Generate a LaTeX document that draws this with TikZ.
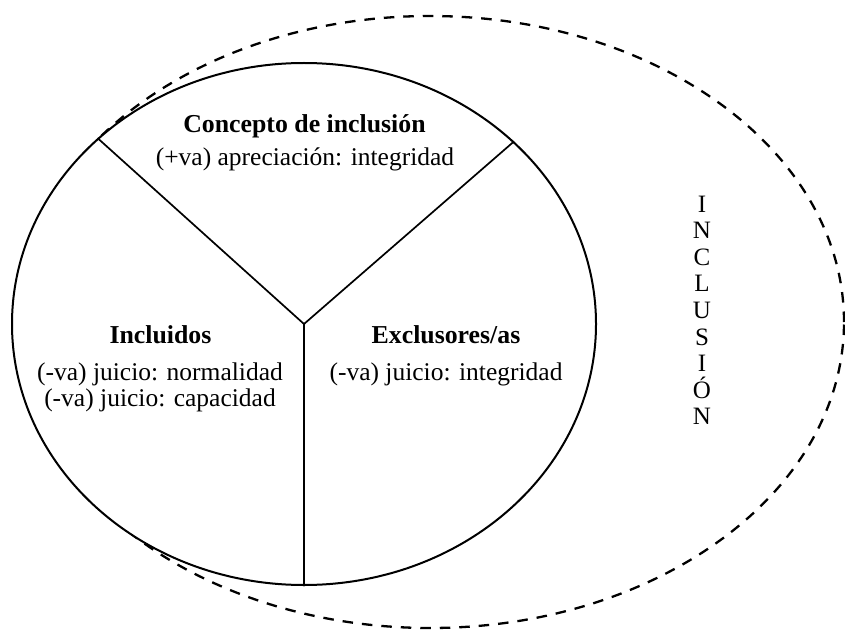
\documentclass[tikz,border=0pt]{standalone}
\usepackage{fontspec}
\setmainfont{Liberation Serif}
\usetikzlibrary{shapes.geometric, positioning}

\begin{document}
\begin{tikzpicture}[
x=1pt, y=1pt,
every node/.style = {inner sep=0pt},
head/.style = {anchor=base, font=\fontsize{25.8}{27}\selectfont\bfseries},
txt/.style  = {anchor=base, font=\fontsize{25.5}{27}\selectfont},
letter/.style = {anchor=base, font=\fontsize{25}{26}\selectfont},
rim/.style  = {ellipse, draw, line width=2pt},
                        ]
\useasboundingbox (0,0) rectangle (845,-631);
% outer dashed ring, partly hidden by the pie
\node (ring) [rim, line width=2.3pt, dash pattern=on 10.5pt off 9pt,
              minimum width=828pt, minimum height=612pt] at (430,-322) {};
\node (pie) [rim, fill=white,
             minimum width=584pt, minimum height=522pt] at (304,-324) {};
\coordinate (hub) at (pie.center);
\draw[line width=1.7pt] (pie.138.2) -- (hub) -- (pie.41.8)
                        (hub) -- (pie.south);

\node (tconc)  [head] at (304.5,-133) {Concepto de inclusión};
\node (tconcv) [txt]  at (305,-166)   {(+va) apreciación: integridad};
\node (tincl)  [head] at (160.5,-343) {Incluidos};
\node (tinclA) [txt]  at (160,-380)   {(-va) juicio: normalidad};
\node (tinclB) [txt]  at (160,-406)   {(-va) juicio: capacidad};
\node (texcl)  [head] at (446,-343)   {Exclusores/as};
\node (texclA) [txt]  at (446,-380)   {(-va) juicio: integridad};

% vertical word
\foreach \ch [count=\i] in {I,N,C,L,U,S,I,Ó,N}
  \node (l\i) [letter] at (702,{-185.4-26.6*\i}) {\ch};
\end{tikzpicture}
\end{document}
